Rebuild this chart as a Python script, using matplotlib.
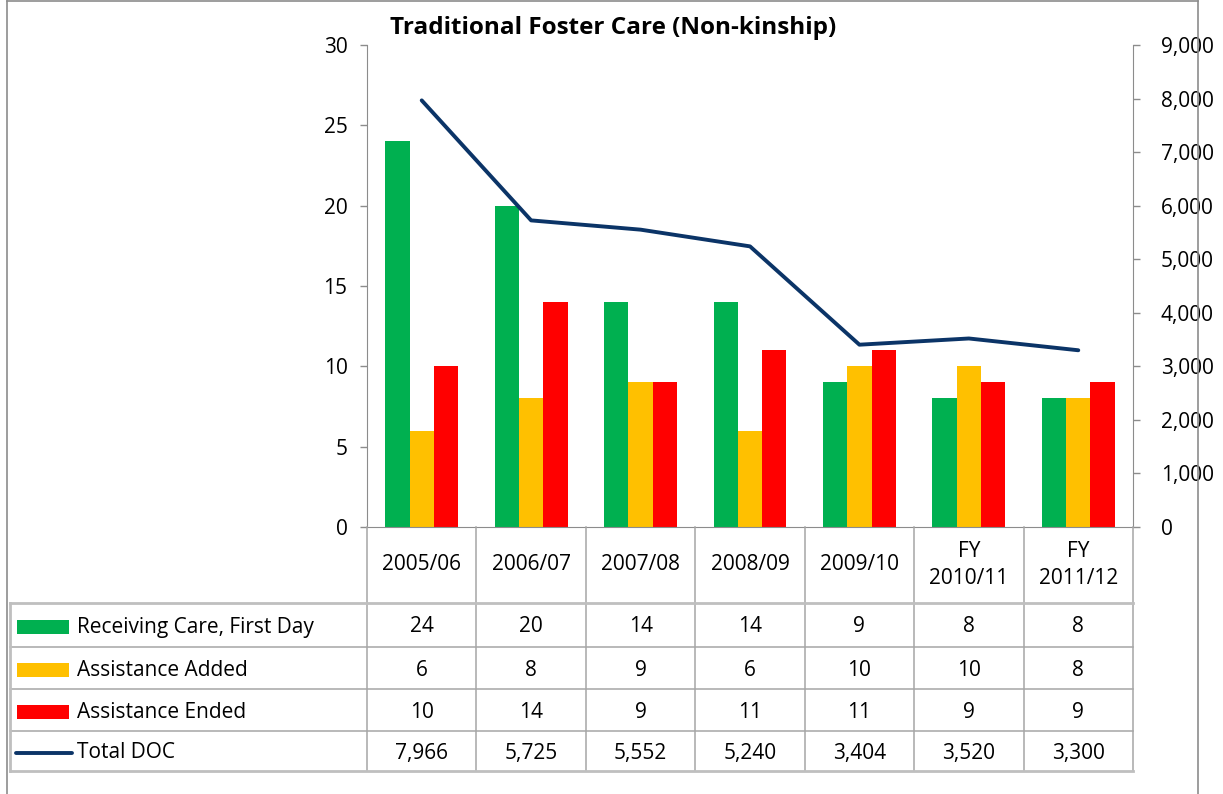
import matplotlib
matplotlib.use("Agg")
import matplotlib.pyplot as plt
from matplotlib.lines import Line2D
from matplotlib.patches import Rectangle
from matplotlib.transforms import blended_transform_factory

plt.rcParams['font.family'] = ['Open Sans', 'DejaVu Sans']

categories = ["2005/06", "2006/07", "2007/08", "2008/09", "2009/10", "FY\n2010/11", "FY\n2011/12"]
receiving_care = [24, 20, 14, 14, 9, 8, 8]
assistance_added = [6, 8, 9, 6, 10, 10, 8]
assistance_ended = [10, 14, 9, 11, 11, 9, 9]
total_doc = [7966, 5725, 5552, 5240, 3404, 3520, 3300]
left_ticks = [0, 5, 10, 15, 20, 25, 30]
right_ticks = [0, 1000, 2000, 3000, 4000, 5000, 6000, 7000, 8000, 9000]

GREEN = "#00B050"
YELLOW = "#FFC000"
RED = "#FF0000"
NAVY = "#0B3467"
GRID = "#A6A6A6"
AXC = "#8C8C8C"
FS = 15

W, H = 1223, 794
fig = plt.figure(figsize=(W / 100, H / 100), dpi=100)

def fx(px):
    return px / W

def fy(py):
    return 1 - py / H

L, R, T, B = 367, 1133, 45, 527
ax = fig.add_axes([fx(L), fy(B), fx(R) - fx(L), fy(T) - fy(B)])
ax2 = ax.twinx()

n = len(categories)
x = list(range(n))
bw = 0.222
ax.bar([i - bw for i in x], receiving_care, bw, color=GREEN, zorder=2)
ax.bar(x, assistance_added, bw, color=YELLOW, zorder=2)
ax.bar([i + bw for i in x], assistance_ended, bw, color=RED, zorder=2)
ax2.plot(x, total_doc, color=NAVY, lw=2.8, solid_capstyle='round', solid_joinstyle='round')

ax.set_xlim(-0.5, n - 0.5)
ax.set_ylim(0, 30)
ax2.set_ylim(0, 9000)
ax.set_yticks(left_ticks)
ax2.set_yticks(right_ticks)
ax2.set_yticklabels([f"{v:,}" for v in right_ticks])
ax.set_xticks([])
for a in (ax, ax2):
    for s in a.spines.values():
        s.set_visible(False)
ax.tick_params(axis='y', length=5, width=1, color=AXC, labelsize=FS, pad=9)
ax2.tick_params(axis='y', length=5, width=1, color=AXC, labelsize=FS, pad=15)
ax.spines['left'].set_visible(True)
ax.spines['left'].set_color(AXC)
ax.spines['bottom'].set_visible(True)
ax.spines['bottom'].set_color(AXC)
ax2.spines['right'].set_visible(True)
ax2.spines['right'].set_color(AXC)
ax.patch.set_visible(False)

fig.text(fx(613), fy(28), "Traditional Foster Care (Non-kinship)", ha='center', va='center',
         fontsize=17.5, fontweight='bold')

# Outer frame
for (x0, y0, x1, y1) in [(7, 1, 1198, 1), (7, 1, 7, 794), (1198, 1, 1198, 794)]:
    fig.add_artist(Line2D([fx(x0), fx(x1)], [fy(y0), fy(y1)], color="#8C8C8C", lw=1.2))

# Data table
tr = blended_transform_factory(ax.transData, fig.transFigure)
rows_y = [603, 647, 689, 731, 771]
header_top = 527
left_px = 10
for i in range(n + 1):
    xb = i - 0.5
    fig.add_artist(Line2D([xb, xb], [fy(header_top), fy(rows_y[-1])], transform=tr,
                          color=GRID, lw=1.1))
for j, yy in enumerate(rows_y):
    x0 = fx(left_px)
    lw = 2.0 if j in (0, len(rows_y) - 1) else 1.1
    col = "#BFBFBF" if j in (0, len(rows_y) - 1) else GRID
    fig.add_artist(Line2D([x0, fx(R)], [fy(yy), fy(yy)], color=col, lw=lw))
fig.add_artist(Line2D([fx(left_px), fx(left_px)], [fy(rows_y[0]), fy(rows_y[-1])],
                      color="#BFBFBF", lw=2.0))

for i, c in enumerate(categories):
    fig.text(i, fy(565), c, transform=tr, ha='center', va='center', fontsize=FS,
             linespacing=1.4)

series = [
    ("Receiving Care, First Day", receiving_care, GREEN, 'bar', lambda v: f"{v}"),
    ("Assistance Added", assistance_added, YELLOW, 'bar', lambda v: f"{v}"),
    ("Assistance Ended", assistance_ended, RED, 'bar', lambda v: f"{v}"),
    ("Total DOC", total_doc, NAVY, 'line', lambda v: f"{v:,}"),
]
for j, (name, vals, col, kind, fmt) in enumerate(series):
    yc = (rows_y[j] + rows_y[j + 1]) / 2 + 2
    if kind == 'bar':
        fig.add_artist(Rectangle((fx(17), fy(yc + 7)), fx(69) - fx(17), fy(yc - 7) - fy(yc + 7),
                                 color=col, lw=0))
    else:
        fig.add_artist(Line2D([fx(16), fx(72)], [fy(yc), fy(yc)], color=col, lw=2.8,
                              solid_capstyle='round'))
    fig.text(fx(77), fy(yc), name, ha='left', va='center', fontsize=FS)
    for i, v in enumerate(vals):
        fig.text(i, fy(yc), fmt(v), transform=tr, ha='center', va='center', fontsize=FS)

fig.savefig("out.png", dpi=100)
